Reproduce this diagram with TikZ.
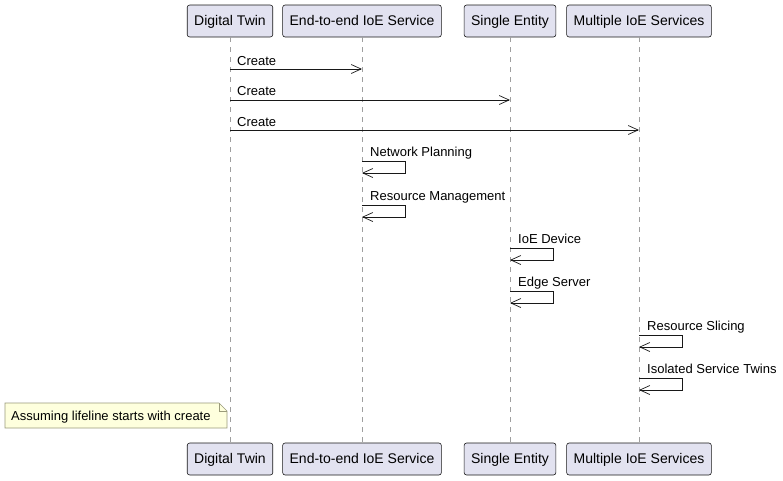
\documentclass[tikz,border=0pt]{standalone}
\usepackage{fontspec}
\setmainfont{Liberation Sans}
\usetikzlibrary{arrows.meta}
\definecolor{partfill}{HTML}{E2E2F0}
\definecolor{partline}{HTML}{181818}
\definecolor{notefill}{HTML}{FEFFDD}
\definecolor{noteline}{HTML}{9A9A7A}
\begin{document}
\begin{tikzpicture}[x=1pt,y=-1pt,
  part/.style={draw=partline,fill=partfill,rounded corners=2.5pt,line width=0.6pt,
    minimum height=32pt,inner xsep=7pt,inner ysep=0pt,text height=12pt,text depth=3pt,
    font=\fontsize{14}{16}\selectfont,text=black},
  life/.style={draw=gray!75,line width=0.6pt,dash pattern=on 5pt off 5pt},
  msg/.style={draw=partline,line width=0.7pt,-{Straight Barb[length=10pt,width=9pt,line width=0.7pt]}},
  lbl/.style={anchor=west,inner sep=0pt,text height=11pt,text depth=2.5pt,
    font=\fontsize{13}{15}\selectfont,text=black}]
\useasboundingbox (0,0) rectangle (783,480);
% participants top
\node[part] (t1) at (230,21) {Digital Twin};
\node[part] (t2) at (362,21) {End-to-end IoE Service};
\node[part] (t3) at (510,21) {Single Entity};
\node[part] (t4) at (639,21) {Multiple IoE Services};
% participants bottom
\node[part] (b1) at (230,459) {Digital Twin};
\node[part] (b2) at (362,459) {End-to-end IoE Service};
\node[part] (b3) at (510,459) {Single Entity};
\node[part] (b4) at (639,459) {Multiple IoE Services};
% lifelines
\foreach \i in {1,2,3,4} \draw[life] (t\i.south) -- (b\i.north);
% create messages
\coordinate (a1) at (230,69); \coordinate (a2) at (362,69);
\coordinate (c1) at (230,100); \coordinate (c2) at (510,100);
\coordinate (d1) at (230,130); \coordinate (d2) at (639,130);
\draw[msg] (a1) -- (a2);
\node[lbl] (la) at (237,61) {Create};
\draw[msg] (c1) -- (c2);
\node[lbl] (lc) at (237,91) {Create};
\draw[msg] (d1) -- (d2);
\node[lbl] (ld) at (237,122) {Create};
% self messages
\foreach \x/\y/\t/\n in {362/161/Network Planning/s1, 362/205/Resource Management/s2,
  510/248/IoE Device/s3, 510/291/Edge Server/s4,
  639/335/Resource Slicing/s5, 639/378/Isolated Service Twins/s6}{
  \coordinate (\n a) at (\x,\y);
  \coordinate (\n b) at (\x+43,\y);
  \coordinate (\n c) at (\x+43,\y+12);
  \coordinate (\n d) at (\x,\y+12);
  \draw[msg] (\n a) -- (\n b) -- (\n c) -- (\n d);
  \node[lbl] (\n l) at (\x+8,\y-9) {\t};
}
% note
\draw[draw=noteline,fill=notefill,line width=0.6pt] (5,403) -- (219,403) -- (227,411) -- (227,428) -- (5,428) -- cycle;
\draw[draw=noteline,line width=0.6pt] (219,403) -- (219,411) -- (227,411);
\node[lbl] (note) at (11,416) {Assuming lifeline starts with create};
\end{tikzpicture}
\end{document}
